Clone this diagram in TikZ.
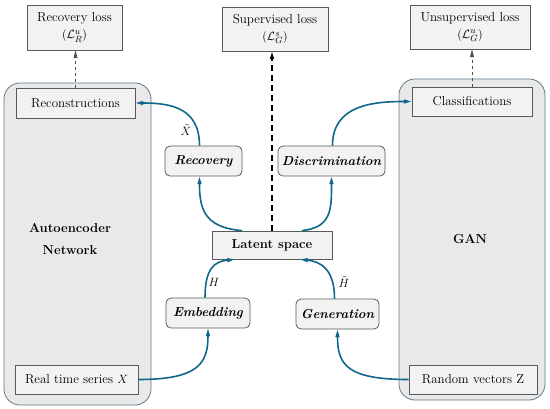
\documentclass[tikz,border=0pt]{standalone}
\usetikzlibrary{arrows.meta}
\usetikzlibrary{calc,positioning}
\tikzset{>={Stealth[inset=0pt,angle=28:8pt]}}
\definecolor{panelfill}{RGB}{233,233,233}
\definecolor{paneldraw}{RGB}{96,122,138}
\definecolor{boxfill}{RGB}{242,242,242}
\definecolor{boxdraw}{RGB}{90,90,90}
\definecolor{flowblue}{RGB}{16,103,140}
\tikzset{
  panel/.style={draw=paneldraw,fill=panelfill,line width=0.8pt,rounded corners=16pt},
  plainbox/.style={draw=boxdraw,fill=boxfill,line width=0.8pt,inner sep=0pt,font=\fontsize{13}{15}\selectfont},
  netbox/.style={plainbox,rounded corners=5pt,font=\fontsize{13}{15}\selectfont\bfseries\itshape},
  flow/.style={->,draw=flowblue,line width=1.6pt},
  lossarrow/.style={->,draw=black!70,dashed,line width=0.7pt},
}

\begin{document}
\begin{tikzpicture}[x=1pt,y=1pt,yscale=-1]
\useasboundingbox (0,0) rectangle (550,408);

%Panels
\draw [panel] (4,83) rectangle (151,405);
\draw [panel] (399,79) rectangle (545,400);
\node [font=\fontsize{13}{22}\selectfont\bfseries,align=center] (aelabel) at (70,239) {Autoencoder\\Network};
\node [font=\fontsize{13}{15}\selectfont\bfseries] (ganlabel) at (470,239) {GAN};

%Loss boxes
\node [plainbox,minimum width=95,minimum height=45,align=center] (recloss) at (74.5,27.5) {Recovery loss\\[2pt]$(\mathcal{L}_{R}^{u})$};
\node [plainbox,minimum width=106,minimum height=44,align=center] (suploss) at (275,29) {Supervised loss\\[2pt]$(\mathcal{L}_{G}^{s})$};
\node [plainbox,minimum width=120,minimum height=44,align=center] (unsloss) at (470,27) {Unsupervised loss\\[2pt]$(\mathcal{L}_{G}^{u})$};

%Boxes inside the panels
\node [plainbox,minimum width=119,minimum height=30] (recon) at (75.5,103) {Reconstructions};
\node [plainbox,minimum width=120,minimum height=29] (cls) at (472,101.5) {Classifications};
\node [plainbox,minimum width=123,minimum height=29] (rts) at (76.5,379.5) {Real time series $X$};
\node [plainbox,minimum width=128,minimum height=29] (rvz) at (473,379.5) {Random vectors Z};

%Networks
\node [netbox,minimum width=77,minimum height=30] (rec) at (203.5,161) {Recovery};
\node [netbox,minimum width=107,minimum height=30] (dis) at (331.5,161) {Discrimination};
\node [plainbox,minimum width=120,minimum height=28,font=\fontsize{13}{15}\selectfont\bfseries] (lat) at (272,245) {Latent space};
\node [netbox,minimum width=84,minimum height=30] (emb) at (208,313) {Embedding};
\node [netbox,minimum width=83,minimum height=30] (gen) at (337.5,314) {Generation};

%Loss arrows
\draw [lossarrow] (recon.north) -- (recon.north |- recloss.south);
\draw [lossarrow] (cls.north) -- (cls.north |- unsloss.south);
\draw [->,dashed,line width=1.8pt,dash pattern=on 6pt off 4pt] (lat.north) -- (lat.north |- suploss.south);

%Flow curves
\draw [flow] (rts.east) .. controls +(60,0) and +(0,35) .. (emb.south);
\draw [flow] (rvz.west) .. controls +(-62,0) and +(0,35) .. (gen.south);
\draw [flow] ([xshift=-3]emb.north) .. controls +(0,-30) and +(-20,2) .. ([xshift=-37]lat.south);
\draw [flow] ([xshift=-3]gen.north) .. controls +(0,-30) and +(20,2) .. ([xshift=28]lat.south);
\draw [flow] ([xshift=-30]lat.north) .. controls +(-38,-3) and +(0,32) .. ([xshift=-4]rec.south);
\draw [flow] ([xshift=30]lat.north) .. controls +(30,-3) and +(0,32) .. ([xshift=0]dis.south);
\draw [flow] ([xshift=-4]rec.north) .. controls +(0,-38) and +(35,0) .. (recon.east);
\draw [flow] ([xshift=1]dis.north) .. controls +(0,-40) and +(-40,0) .. (cls.west);

%Labels
\node [font=\fontsize{12}{14}\selectfont,inner sep=1pt] (xt) at (186,130) {$\tilde{X}$};
\node [font=\fontsize{12}{14}\selectfont,inner sep=1pt] (hl) at (214,282) {$H$};
\node [font=\fontsize{12}{14}\selectfont,inner sep=1pt] (ht) at (344,282) {$\tilde{H}$};
\end{tikzpicture}
\end{document}
